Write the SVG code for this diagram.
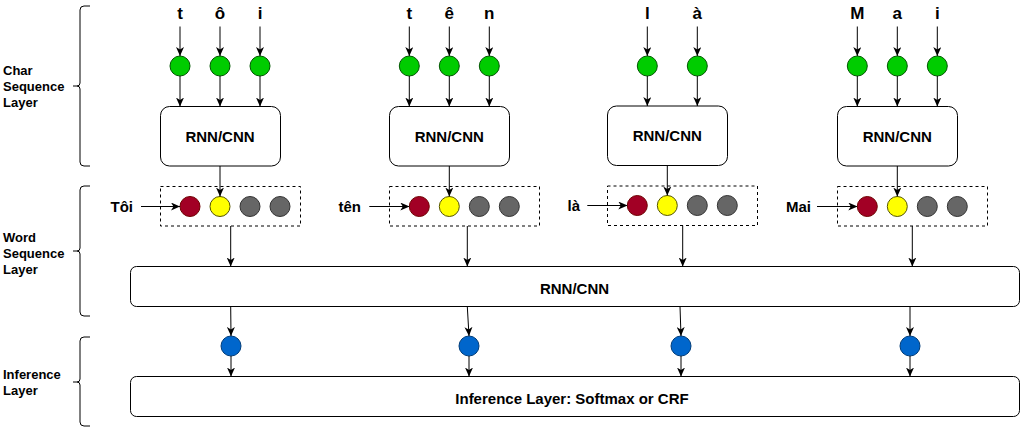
<svg xmlns="http://www.w3.org/2000/svg" width="1021" height="427" viewBox="0 0 1021 427">
<style>
text{font-family:"Liberation Sans",Arial,sans-serif;font-weight:bold;fill:#000}
.lbl{font-size:13px}
.ch{font-size:17px;text-anchor:middle}
.box{fill:#fff;stroke:#000;stroke-width:1}
.dash{fill:none;stroke:#000;stroke-width:1;stroke-dasharray:3,3}
.t15{font-size:15px}
.mid{text-anchor:middle}
.end{text-anchor:end}
.brace{fill:none;stroke:#000;stroke-width:1}
.g{fill:#00CC00;stroke:#005700}
.r{fill:#A20025;stroke:#6F0000}
.y{fill:#FFFF00;stroke:#555500}
.k{fill:#666666;stroke:#333333}
.b{fill:#0066CC;stroke:#003D7A}
#connectors line{stroke:#000;stroke-width:1;marker-end:url(#ah)}
</style>
<defs>
<marker id="ah" markerUnits="userSpaceOnUse" markerWidth="9" markerHeight="8" refX="9" refY="4" orient="auto">
<path d="M0,0 L9,4 L0,8 L2.5,4 Z" fill="#000"/>
</marker>
</defs>
<rect width="1021" height="427" fill="#fff"/>

<g id="layer-labels">
<text class="lbl" x="3" y="75">Char</text>
<text class="lbl" x="3" y="91">Sequence</text>
<text class="lbl" x="3" y="107">Layer</text>
<text class="lbl" x="3" y="242">Word</text>
<text class="lbl" x="3" y="258">Sequence</text>
<text class="lbl" x="3" y="274">Layer</text>
<text class="lbl" x="3" y="379">Inference</text>
<text class="lbl" x="3" y="395">Layer</text>
</g>

<g id="braces">
<path class="brace" d="M90,6 L84,6 Q80,6 80,10 L80,83 Q80,86 77,86 L73,86 M77,86 Q80,86 80,89 L80,162 Q80,166 84,166 L90,166"/>
<path class="brace" d="M90,186 L84,186 Q80,186 80,190 L80,248 Q80,251 77,251 L73,251 M77,251 Q80,251 80,254 L80,312 Q80,316 84,316 L90,316"/>
<path class="brace" d="M90,337 L84,337 Q80,337 80,341 L80,379 Q80,382 77,382 L73,382 M77,382 Q80,382 80,385 L80,422 Q80,426 84,426 L90,426"/>
</g>

<g id="word1">
<text class="ch" x="180" y="19">t</text>
<text class="ch" x="220" y="19">ô</text>
<text class="ch" x="260" y="19">i</text>
<circle class="g" cx="180" cy="66" r="10"/>
<circle class="g" cx="220" cy="66" r="10"/>
<circle class="g" cx="260" cy="66" r="10"/>
<rect class="box" x="160.5" y="106.5" width="120" height="59.5" rx="9"/>
<text class="t15 mid" x="220" y="142">RNN/CNN</text>
<rect class="dash" x="160.5" y="186.5" width="140" height="39.5"/>
<circle class="r" cx="190" cy="206.5" r="10"/>
<circle class="y" cx="220" cy="206.5" r="10"/>
<circle class="k" cx="250" cy="206.5" r="10"/>
<circle class="k" cx="280" cy="206.5" r="10"/>
<text class="t15 end" x="133" y="212">Tôi</text>
</g>

<g id="word2">
<text class="ch" x="409.3" y="19">t</text>
<text class="ch" x="449.3" y="19">ê</text>
<text class="ch" x="489.3" y="19">n</text>
<circle class="g" cx="409.3" cy="66" r="10"/>
<circle class="g" cx="449.3" cy="66" r="10"/>
<circle class="g" cx="489.3" cy="66" r="10"/>
<rect class="box" x="389.5" y="106.5" width="120" height="59.5" rx="9"/>
<text class="t15 mid" x="449.3" y="142">RNN/CNN</text>
<rect class="dash" x="389.5" y="186.5" width="150" height="39.5"/>
<circle class="r" cx="419.3" cy="206.5" r="10"/>
<circle class="y" cx="449.3" cy="206.5" r="10"/>
<circle class="k" cx="479.3" cy="206.5" r="10"/>
<circle class="k" cx="509.3" cy="206.5" r="10"/>
<text class="t15 end" x="361" y="212">tên</text>
</g>

<g id="word3">
<text class="ch" x="647.3" y="19">l</text>
<text class="ch" x="697.3" y="19">à</text>
<circle class="g" cx="647.3" cy="66" r="10"/>
<circle class="g" cx="697.3" cy="66" r="10"/>
<rect class="box" x="607.5" y="106" width="120" height="59.5" rx="9"/>
<text class="t15 mid" x="667.3" y="141">RNN/CNN</text>
<rect class="dash" x="607.5" y="186" width="150" height="39.5"/>
<circle class="r" cx="637.3" cy="205.5" r="10"/>
<circle class="y" cx="667.3" cy="205.5" r="10"/>
<circle class="k" cx="697.3" cy="205.5" r="10"/>
<circle class="k" cx="727.3" cy="205.5" r="10"/>
<text class="t15 end" x="580" y="211">là</text>
</g>

<g id="word4">
<text class="ch" x="857.3" y="19">M</text>
<text class="ch" x="897.3" y="19">a</text>
<text class="ch" x="937.3" y="19">i</text>
<circle class="g" cx="857.3" cy="66" r="10"/>
<circle class="g" cx="897.3" cy="66" r="10"/>
<circle class="g" cx="937.3" cy="66" r="10"/>
<rect class="box" x="837.5" y="106.5" width="120" height="59.5" rx="9"/>
<text class="t15 mid" x="897.3" y="142">RNN/CNN</text>
<rect class="dash" x="837.5" y="186.5" width="150" height="39.5"/>
<circle class="r" cx="867.3" cy="206.5" r="10"/>
<circle class="y" cx="897.3" cy="206.5" r="10"/>
<circle class="k" cx="927.3" cy="206.5" r="10"/>
<circle class="k" cx="957.3" cy="206.5" r="10"/>
<text class="t15 end" x="811" y="212">Mai</text>
</g>

<g id="word-rnn">
<rect class="box" x="130.5" y="266.5" width="889" height="40" rx="6"/>
<text class="t15 mid" x="574.5" y="294">RNN/CNN</text>
</g>

<g id="tags">
<circle class="b" cx="231" cy="346" r="10"/>
<circle class="b" cx="469" cy="346" r="10"/>
<circle class="b" cx="681" cy="346" r="10"/>
<circle class="b" cx="910" cy="346" r="10"/>
</g>

<g id="inference">
<rect class="box" x="130.5" y="376.5" width="889" height="40" rx="6"/>
<text class="t15 mid" x="572" y="404">Inference Layer: Softmax or CRF</text>
</g>

<g id="connectors">
<line x1="180" y1="26.5" x2="180" y2="56"/>
<line x1="220" y1="26.5" x2="220" y2="56"/>
<line x1="260" y1="26.5" x2="260" y2="56"/>
<line x1="180" y1="76" x2="180" y2="106.5"/>
<line x1="220" y1="76" x2="220" y2="106.5"/>
<line x1="260" y1="76" x2="260" y2="106.5"/>
<line x1="220" y1="166" x2="220" y2="196.5"/>
<line x1="141" y1="206.5" x2="180" y2="206.5"/>

<line x1="409.3" y1="26.5" x2="409.3" y2="56"/>
<line x1="449.3" y1="26.5" x2="449.3" y2="56"/>
<line x1="489.3" y1="26.5" x2="489.3" y2="56"/>
<line x1="409.3" y1="76" x2="409.3" y2="106.5"/>
<line x1="449.3" y1="76" x2="449.3" y2="106.5"/>
<line x1="489.3" y1="76" x2="489.3" y2="106.5"/>
<line x1="449.3" y1="166" x2="449.3" y2="196.5"/>
<line x1="369.3" y1="206.5" x2="409.3" y2="206.5"/>

<line x1="647.3" y1="26.5" x2="647.3" y2="56"/>
<line x1="697.3" y1="26.5" x2="697.3" y2="56"/>
<line x1="647.3" y1="76" x2="647.3" y2="106"/>
<line x1="697.3" y1="76" x2="697.3" y2="106"/>
<line x1="667.3" y1="165.5" x2="667.3" y2="195.5"/>
<line x1="587.3" y1="205.5" x2="627.3" y2="205.5"/>

<line x1="857.3" y1="26.5" x2="857.3" y2="56"/>
<line x1="897.3" y1="26.5" x2="897.3" y2="56"/>
<line x1="937.3" y1="26.5" x2="937.3" y2="56"/>
<line x1="857.3" y1="76" x2="857.3" y2="106.5"/>
<line x1="897.3" y1="76" x2="897.3" y2="106.5"/>
<line x1="937.3" y1="76" x2="937.3" y2="106.5"/>
<line x1="897.3" y1="166" x2="897.3" y2="196.5"/>
<line x1="817" y1="206.5" x2="857.3" y2="206.5"/>

<line x1="230.7" y1="226" x2="230.7" y2="266.5"/>
<line x1="467.3" y1="226" x2="467.3" y2="266.5"/>
<line x1="682.7" y1="225.5" x2="682.7" y2="266.5"/>
<line x1="912.3" y1="226" x2="912.3" y2="266.5"/>

<line x1="230.7" y1="306.5" x2="231" y2="336"/>
<line x1="467.3" y1="306.5" x2="469" y2="336"/>
<line x1="680" y1="306.5" x2="681" y2="336"/>
<line x1="910" y1="306.5" x2="910" y2="336"/>

<line x1="231" y1="356" x2="231" y2="376.5"/>
<line x1="469" y1="356" x2="469" y2="376.5"/>
<line x1="681" y1="356" x2="681" y2="376.5"/>
<line x1="910" y1="356" x2="910" y2="376.5"/>
</g>
</svg>
